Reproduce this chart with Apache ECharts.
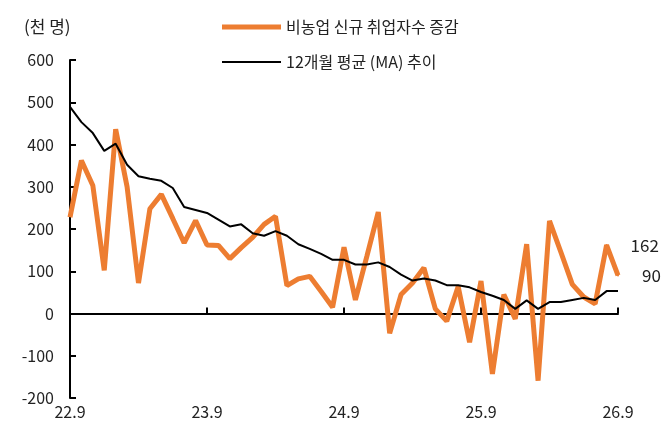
<!DOCTYPE html>
<html>
<head>
<meta charset="utf-8">
<script src="https://cdn.jsdelivr.net/npm/echarts@6/dist/echarts.min.js"></script>
<style>
html,body{margin:0;padding:0;background:#fff;}
#chart{width:670px;height:440px;}
</style>
</head>
<body>
<div id="chart"></div>
<script>
var categories = ['22.9','22.10','22.11','22.12',
  '23.1','23.2','23.3','23.4','23.5','23.6','23.7','23.8','23.9','23.10','23.11','23.12',
  '24.1','24.2','24.3','24.4','24.5','24.6','24.7','24.8','24.9','24.10','24.11','24.12',
  '25.1','25.2','25.3','25.4','25.5','25.6','25.7','25.8','25.9','25.10','25.11','25.12',
  '26.1','26.2','26.3','26.4','26.5','26.6','26.7','26.8','26.9'];
var payrollChange = [228,362,303,102,436,300,72,248,282,225,167,220,162,161,130,156,180,211,230,66,82,88,52,15,157,32,135,240,-47,45,72,108,11,-18,64,-68,77,-143,45,-13,164,-159,219,145,69,39,23,162,90];
var movingAvg12 = [489,453,427,385,402,352,325,319,314,297,252,245,238,222,206,211,190,184,195,184,164,153,141,127,127,116,116,121,110,92,78,83,78,67,67,62,51,42,32,11,31,11,27,27,32,37,32,53,53];
var yTicks = {min:-200, max:600, interval:100};
var seriesNames = ['비농업 신규 취업자수 증감','12개월 평균 (MA) 추이'];
var unitLabel = '(천 명)';

var FONT = '"Noto Sans CJK KR", "Noto Sans", sans-serif';
var TXT = '#222';
var ORANGE = '#ED7D31';
var chart = echarts.init(document.getElementById('chart'));

var orangeData = payrollChange.map(function(v,i){
  if (i >= payrollChange.length - 2) {
    return {value:v, symbol:'circle', symbolSize:2,
      label:{show:true, position:'right', distance:23, formatter:'{c}', fontSize:17, color:TXT, fontFamily:FONT}};
  }
  return v;
});

chart.setOption({
  animation:false,
  textStyle:{fontFamily:FONT},
  grid:{left:70, right:52, top:60, bottom:42, containLabel:false},
  graphic:[{type:'text', left:24, top:18, style:{text:unitLabel, fontSize:17, fill:TXT, fontFamily:FONT}}],
  legend:[
    {left:217, top:14, itemWidth:59, itemHeight:5, icon:'rect',
     textStyle:{fontSize:16, color:TXT, fontFamily:FONT},
     data:[{name:seriesNames[0], itemStyle:{color:ORANGE}}]},
    {left:217, top:49, itemWidth:59, itemHeight:2, icon:'rect',
     textStyle:{fontSize:16, color:TXT, fontFamily:FONT},
     data:[{name:seriesNames[1], itemStyle:{color:'#000'}}]}
  ],
  xAxis:[
    {type:'category', data:categories, boundaryGap:false, position:'bottom',
     axisLine:{onZero:true, lineStyle:{color:'#000', width:2}},
     axisTick:{show:true, inside:true, length:6, interval:11, lineStyle:{color:'#000', width:2}},
     axisLabel:{show:false}, splitLine:{show:false}},
    {type:'category', data:categories, boundaryGap:false, position:'bottom',
     axisLine:{show:false, onZero:false}, axisTick:{show:false},
     axisLabel:{interval:11, margin:6, fontSize:16, color:TXT, fontFamily:FONT}, splitLine:{show:false}}
  ],
  yAxis:{type:'value', min:yTicks.min, max:yTicks.max, interval:yTicks.interval,
    axisLine:{show:true, lineStyle:{color:'#000', width:2}},
    axisTick:{show:true, inside:true, length:6, lineStyle:{color:'#000', width:2}},
    axisLabel:{fontSize:16, margin:16, color:TXT, fontFamily:FONT},
    splitLine:{show:false}},
  series:[
    {name:seriesNames[0], type:'line', data:orangeData, symbol:'none', xAxisIndex:0,
     lineStyle:{color:ORANGE, width:5}, itemStyle:{color:ORANGE}, z:2},
    {name:seriesNames[1], type:'line', data:movingAvg12, symbol:'none', xAxisIndex:0,
     lineStyle:{color:'#000', width:2}, itemStyle:{color:'#000'}, z:3}
  ]
});
</script>
</body>
</html>
